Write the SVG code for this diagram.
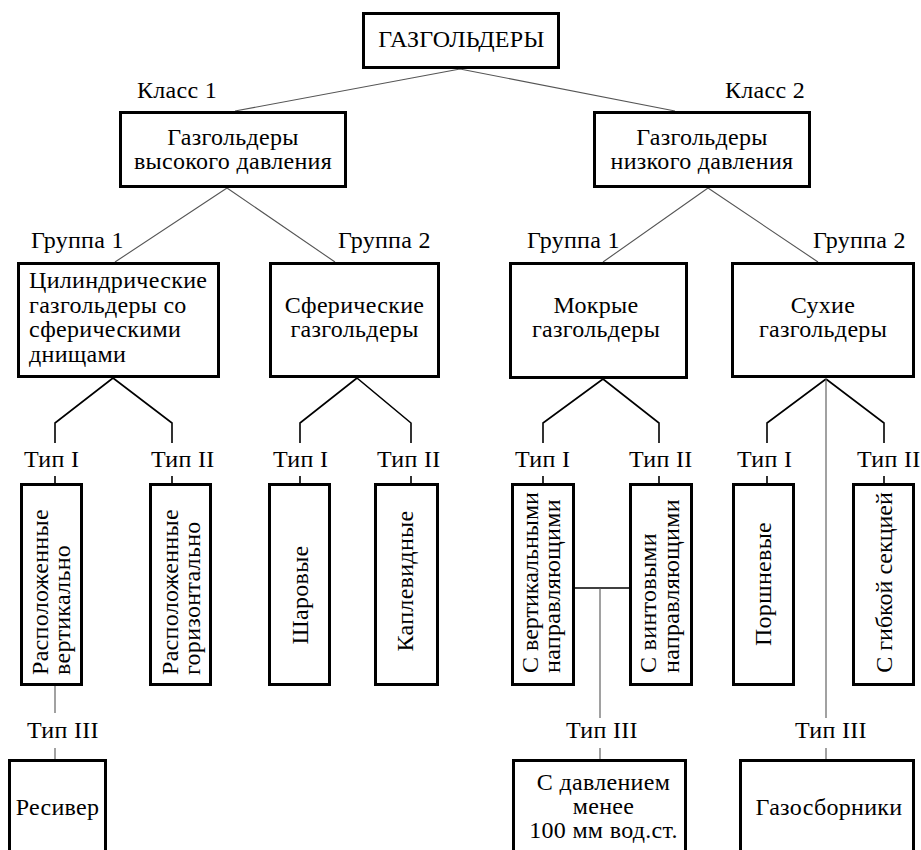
<svg xmlns="http://www.w3.org/2000/svg" width="921" height="850" viewBox="0 0 921 850">
<style>
  .box { fill: #fff; stroke: #000; stroke-width: 3; }
  text { font-family: 'Liberation Serif', 'Times New Roman', Tinos, 'DejaVu Serif', serif; font-size: 24px; letter-spacing: 0.3px; fill: #000; }
  .c { text-anchor: middle; }
  .thin { fill: none; stroke: #555; stroke-width: 1.1; }
  .thick { fill: none; stroke: #000; stroke-width: 1.6; }
</style>
<rect width="921" height="850" fill="#fff"/>
<g id="connectors">
  <path class="thin" d="M460,69 L235,111 M460,69 L675,111"/>
  <path class="thin" d="M227,188 L115,262 M227,188 L335,262"/>
  <path class="thin" d="M708,188 L603,262 M708,188 L818,262"/>
  <path class="thick" d="M113,378 L55,423 L55,443 M113,378 L172,423 L172,443 M55,476 L55,483 M172,476 L172,483"/>
  <path class="thick" d="M357,378 L300,423 L300,443 M357,378 L411,423 L411,443 M300,476 L300,483 M411,476 L411,483"/>
  <path class="thick" d="M603,379 L543,423 L543,443 M603,379 L659,423 L659,443 M543,476 L543,483 M659,476 L659,483"/>
  <path class="thick" d="M826,379 L767,423 L767,443 M826,379 L884,423 L884,443 M767,476 L767,483 M884,476 L884,483"/>
  <path class="thin" d="M826,379 L826,718 M826,748 L826,759"/>
  <path class="thin" d="M55,686 L55,713 M55,748 L55,759"/>
  <path class="thick" d="M575,588 L629,588"/>
  <path class="thin" d="M600,588 L600,718 M600,748 L600,759"/>
</g>
<g id="labels">
  <text x="137" y="98">Класс 1</text>
  <text x="725" y="98">Класс 2</text>
  <text x="31" y="248">Группа 1</text>
  <text x="338" y="248">Группа 2</text>
  <text x="527" y="248">Группа 1</text>
  <text x="813" y="248">Группа 2</text>
  <text x="24" y="467">Тип I</text>
  <text x="151" y="467">Тип II</text>
  <text x="273" y="467">Тип I</text>
  <text x="377" y="467">Тип II</text>
  <text x="515" y="467">Тип I</text>
  <text x="629" y="467">Тип II</text>
  <text x="737" y="467">Тип I</text>
  <text x="857" y="467">Тип II</text>
  <text x="27" y="738">Тип III</text>
  <text x="566" y="738">Тип III</text>
  <text x="795" y="738">Тип III</text>
</g>
<g id="root">
  <rect class="box" x="363.5" y="13.5" width="195" height="54"/>
  <text class="c" x="461.5" y="47">ГАЗГОЛЬДЕРЫ</text>
</g>
<g id="high">
  <rect class="box" x="120.5" y="112.5" width="225" height="74"/>
  <text class="c" x="233" y="145">Газгольдеры</text>
  <text class="c" x="233" y="169">высокого давления</text>
</g>
<g id="low">
  <rect class="box" x="594.5" y="112.5" width="215" height="74"/>
  <text class="c" x="702" y="145">Газгольдеры</text>
  <text class="c" x="702" y="169">низкого давления</text>
</g>
<g id="cyl">
  <rect class="box" x="18.5" y="263.5" width="200" height="113"/>
  <text x="29" y="288">Цилиндрические</text>
  <text x="29" y="313">газгольдеры со</text>
  <text x="29" y="337">сферическими</text>
  <text x="29" y="362">днищами</text>
</g>
<g id="sph">
  <rect class="box" x="270.5" y="263.5" width="168" height="113"/>
  <text class="c" x="354.5" y="313">Сферические</text>
  <text class="c" x="354.5" y="337">газгольдеры</text>
</g>
<g id="wet">
  <rect class="box" x="510.5" y="263.5" width="176" height="114"/>
  <text class="c" x="596" y="313">Мокрые</text>
  <text class="c" x="596" y="337">газгольдеры</text>
</g>
<g id="dry">
  <rect class="box" x="732.5" y="263.5" width="181" height="113"/>
  <text class="c" x="823" y="313">Сухие</text>
  <text class="c" x="823" y="337">газгольдеры</text>
</g>
<g id="vert">
  <rect class="box" x="21.5" y="484.5" width="60" height="200"/>
  <text transform="translate(48,675) rotate(-90)">Расположенные</text>
  <text transform="translate(70,675) rotate(-90)">вертикально</text>
</g>
<g id="horiz">
  <rect class="box" x="150.5" y="484.5" width="60" height="200"/>
  <text transform="translate(178,675) rotate(-90)">Расположенные</text>
  <text transform="translate(200,675) rotate(-90)">горизонтально</text>
</g>
<g id="ball">
  <rect class="box" x="269.5" y="484.5" width="60" height="200"/>
  <text class="c" transform="translate(308,595) rotate(-90)">Шаровые</text>
</g>
<g id="drop">
  <rect class="box" x="375.5" y="484.5" width="62" height="200"/>
  <text class="c" transform="translate(413,581) rotate(-90)">Каплевидные</text>
</g>
<g id="vguide">
  <rect class="box" x="512.5" y="484.5" width="61" height="200"/>
  <text transform="translate(538,673) rotate(-90)" style="letter-spacing:0">С вертикальными</text>
  <text transform="translate(560,673) rotate(-90)">направляющими</text>
</g>
<g id="sguide">
  <rect class="box" x="630.5" y="484.5" width="61" height="200"/>
  <text transform="translate(656,673) rotate(-90)">С винтовыми</text>
  <text transform="translate(679,673) rotate(-90)">направляющими</text>
</g>
<g id="piston">
  <rect class="box" x="733.5" y="484.5" width="60" height="200"/>
  <text class="c" transform="translate(771,584) rotate(-90)">Поршневые</text>
</g>
<g id="flex">
  <rect class="box" x="853.5" y="484.5" width="60" height="200"/>
  <text class="c" transform="translate(892,582.5) rotate(-90)" style="letter-spacing:0">С гибкой секцией</text>
</g>
<g id="receiver">
  <rect class="box" x="9.5" y="760.5" width="96" height="110"/>
  <text class="c" x="57.5" y="815">Ресивер</text>
</g>
<g id="lowp">
  <rect class="box" x="513.5" y="760.5" width="172" height="110"/>
  <text class="c" x="603.5" y="790">С давлением</text>
  <text class="c" x="603.5" y="814">менее</text>
  <text class="c" x="603.5" y="838">100 мм вод.ст.</text>
</g>
<g id="collect">
  <rect class="box" x="740.5" y="760.5" width="173" height="110"/>
  <text class="c" x="829" y="815">Газосборники</text>
</g>
</svg>
